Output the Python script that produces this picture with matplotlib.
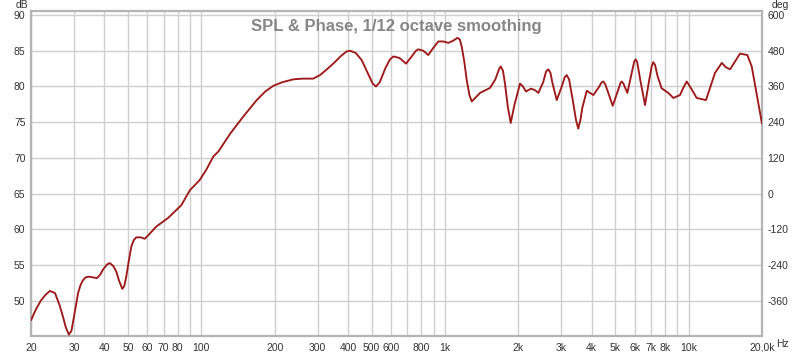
import matplotlib
matplotlib.use("Agg")
import matplotlib.pyplot as plt
from matplotlib.ticker import FixedLocator, FixedFormatter, NullLocator

# ---- data ----
freq_hz = [20, 21, 22, 23, 23.9, 25.1, 26.2, 27.0, 27.8, 28.6, 29.3, 30.2, 31.2, 32.0,
           32.7, 33.5, 34.6, 36.0, 37.3, 38.5, 39.5, 41.0, 42.1, 43.5, 44.8, 46.0,
           47.4, 48.3, 49.2, 50.5, 51.6, 52.8, 54.1, 56.5, 58.6, 61.0, 65.3, 73.0,
           82.8, 89.8, 98.4, 105, 112, 117.4, 132, 148.7, 168.8, 183, 197.5, 215,
           238.6, 260, 288, 307, 325, 348, 375, 395, 407.6, 430, 455, 480, 505, 521,
           540, 570, 595, 614, 650, 692, 730, 760, 777, 815, 854, 895, 939, 985,
           1032, 1080, 1124, 1150, 1171, 1200, 1228, 1260, 1288, 1330, 1393, 1530,
           1610, 1670, 1694, 1730, 1763, 1810, 1861, 1930, 2032, 2090, 2150, 2254,
           2340, 2416, 2530, 2600, 2655, 2710, 2760, 2875, 3000, 3100, 3158, 3230,
           3330, 3450, 3524, 3600, 3660, 3818, 4062, 4260, 4400, 4466, 4550, 4670,
           4878, 5100, 5250, 5315, 5400, 5460, 5604, 5830, 5980, 6067, 6150, 6340,
           6622, 6880, 7060, 7162, 7280, 7450, 7746, 8252, 8651, 9217, 9500, 9821,
           10250, 10790, 11780, 12300, 12830, 13680, 14200, 14790, 15500, 16250,
           17410, 18150, 19000, 20000]
spl_db = [47.3, 48.9, 50.1, 50.9, 51.4, 51.1, 49.4, 47.9, 46.3, 45.3, 45.8, 48.3, 51.1,
          52.3, 52.9, 53.3, 53.4, 53.3, 53.2, 53.7, 54.4, 55.1, 55.3, 54.9, 54.1, 52.8,
          51.7, 52.1, 53.4, 55.8, 57.6, 58.5, 58.9, 58.9, 58.7, 59.3, 60.4, 61.6,
          63.4, 65.5, 66.9, 68.4, 70.2, 70.9, 73.5, 75.8, 78.1, 79.3, 80.1, 80.6,
          81.0, 81.1, 81.1, 81.6, 82.3, 83.2, 84.3, 84.9, 85.0, 84.7, 83.7, 82.0, 80.4, 80.0,
          80.6, 82.6, 83.8, 84.2, 84.0, 83.2, 84.2, 85.0, 85.2, 85.0, 84.4, 85.4, 86.3, 86.3,
          86.1, 86.4, 86.8, 86.6, 85.6, 83.5, 80.9, 78.8, 77.9, 78.4, 79.1, 79.8,
          81.0, 82.5, 82.8, 82.2, 80.4, 77.2, 74.9, 77.5, 80.4, 80.0, 79.3, 79.7,
          79.5, 79.1, 80.6, 82.1, 82.4, 81.9, 80.5, 78.1, 79.8, 81.3, 81.6, 81.0,
          78.5, 75.3, 74.1, 75.4, 77.0, 79.4, 78.8, 79.8, 80.6, 80.7, 80.3, 79.2,
          77.3, 79.2, 80.5, 80.7, 80.4, 80.0, 79.1, 81.8, 83.5, 83.8, 83.4, 80.8,
          77.4, 80.8, 82.9, 83.4, 83.0, 81.5, 79.75, 79.1, 78.4, 78.8, 79.8, 80.7,
          79.7, 78.4, 78.1, 80.0, 81.9, 83.3, 82.7, 82.4, 83.5, 84.6,
          84.4, 82.8, 79.0, 74.8]

grid_freqs = [20, 30, 40, 50, 60, 70, 80, 90, 100, 200, 300, 400, 500, 600, 700,
              800, 900, 1000, 2000, 3000, 4000, 5000, 6000, 7000, 8000, 9000,
              10000, 20000]
grid_labels = ["20", "30", "40", "50", "60", "70", "80", "", "100", "200", "300",
               "400", "500", "600", "", "800", "", "1k", "2k", "3k", "4k", "5k",
               "6k", "7k", "8k", "", "10k", "20,0k"]
db_ticks = [50, 55, 60, 65, 70, 75, 80, 85, 90]
deg_ticks = [-360, -240, -120, 0, 120, 240, 360, 480, 600]

title = "SPL & Phase, 1/12 octave smoothing"

plt.rcParams['font.family'] = ['Liberation Sans', 'DejaVu Sans']

fig = plt.figure(figsize=(8.0, 3.52), dpi=100)
ax = fig.add_axes([31/800, 1-336/352, (762-31)/800, (336-11)/352])

ymin, ymax = 45.1, 90.56
ax.set_xscale('log')
ax.set_xlim(20, 20000)
ax.set_ylim(ymin, ymax)

ax.xaxis.set_major_locator(FixedLocator(grid_freqs))
ax.xaxis.set_major_formatter(FixedFormatter(grid_labels))
ax.xaxis.set_minor_locator(NullLocator())
ax.set_yticks(db_ticks)
ax.set_yticklabels([str(v) for v in db_ticks])

ax.grid(True, which='major', color='#cfcfcf', lw=1.0)
ax.set_axisbelow(True)
ax.tick_params(axis='both', length=0, labelsize=7.5, colors='#333333')
ax.tick_params(axis='x', pad=5)
ax.tick_params(axis='y', pad=4)

for s in ax.spines.values():
    s.set_color('#b4b4b4')
    s.set_linewidth(1.6)

ax.plot(freq_hz, spl_db, color='#9e1a1a', lw=1.35, solid_capstyle='round',
        solid_joinstyle='round', zorder=3)

# right axis in degrees
ax2 = ax.twinx()
ax2.set_ylim((ymin - 90) * 24 + 600, (ymax - 90) * 24 + 600)
ax2.set_yticks(deg_ticks)
ax2.set_yticklabels([str(v) for v in deg_ticks])
ax2.tick_params(axis='y', length=0, labelsize=7.5, colors='#333333', pad=4)
for s in ax2.spines.values():
    s.set_visible(False)

ax.text(0.5, 0.975, title, transform=ax.transAxes, ha='center', va='top',
        fontsize=12, fontweight='bold', color='#868686')

fig.text(22/800, 1-5/352, "dB", ha='center', va='center', fontsize=7.5, color='#333333')
fig.text(780/800, 1-5/352, "deg", ha='center', va='center', fontsize=7.5, color='#333333')
fig.text(776/800, 1-344/352, "Hz", ha='left', va='center', fontsize=7.5, color='#333333')

fig.savefig("out.png", dpi=100)
